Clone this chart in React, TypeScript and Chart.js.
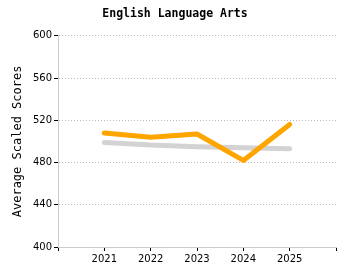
import React, { useEffect, useRef } from "react";
import { Chart, registerables } from "chart.js";
Chart.register(...registerables);

const categories = ["", "2021", "2022", "2023", "2024", "2025", ""];
const schoolScores = [null, 508, 504, 507, 482, 516, null];
const comparisonScores = [null, 499, 496.5, 495, 494, 493, null];
const yMin = 400;
const yMax = 600;
const yStep = 40;
const chartTitle = "English Language Arts";
const yTitle = "Average Scaled Scores";

export default function App() {
  const ref = useRef<HTMLCanvasElement | null>(null);
  useEffect(() => {
    if (!ref.current) return;
    const chart = new Chart(ref.current, {
      type: "line",
      data: {
        labels: categories,
        datasets: [
          {
            data: schoolScores,
            borderColor: "#FFA500",
            backgroundColor: "#FFA500",
            borderWidth: 5,
            pointRadius: 0,
            borderCapStyle: "round",
            borderJoinStyle: "round",
            order: 0,
          },
          {
            data: comparisonScores,
            borderColor: "#D3D3D3",
            backgroundColor: "#D3D3D3",
            borderWidth: 5,
            pointRadius: 0,
            borderCapStyle: "round",
            order: 1,
          },
        ],
      },
      options: {
        animation: false,
        responsive: false,
        maintainAspectRatio: false,
        layout: { padding: { left: 0, right: 0, top: 4, bottom: 0 } },
        plugins: {
          legend: { display: false },
          tooltip: { enabled: false },
          title: {
            display: true,
            text: chartTitle,
            color: "#000",
            font: { family: "DejaVu Sans Mono", size: 11.5, weight: "bold" },
            padding: { top: 3, bottom: 15 },
          },
        },
        scales: {
          x: {
            offset: false,
            grid: {
              drawOnChartArea: false,
              drawTicks: true,
              tickLength: 4,
              tickColor: "#000",
            },
            border: { color: "#CCCCCC", width: 1 },
            ticks: {
              color: "#000",
              font: { family: "DejaVu Sans", size: 10 },
              maxRotation: 0,
              autoSkip: false,
              padding: 2,
            },
            afterFit: (s: any) => {
              s.height = 33;
            },
          },
          y: {
            min: yMin,
            max: yMax,
            grid: {
              color: "#BBBBBB",
              tickColor: "#000",
              tickLength: 4,
              tickBorderDash: [],
            },
            border: { color: "#CCCCCC", width: 1, dash: [1, 2] },
            ticks: {
              stepSize: yStep,
              color: "#000",
              font: { family: "DejaVu Sans", size: 10 },
              padding: 2,
            },
            title: {
              display: true,
              text: yTitle,
              color: "#000",
              font: { family: "DejaVu Sans Mono", size: 12 },
              padding: { top: 11, bottom: 4 },
            },
            afterFit: (s: any) => {
              s.width = 58;
            },
          },
          yRight: {
            position: "right",
            display: true,
            grid: { display: false },
            border: { display: false },
            ticks: { display: false },
            afterFit: (s: any) => {
              s.width = 14;
            },
          },
        },
      },
    });
    return () => chart.destroy();
  }, []);
  return (
    <div style={{ position: "fixed", left: 0, top: 0, width: 350, height: 280, background: "#fff" }}>
      <canvas ref={ref} width={350} height={280} style={{ width: 350, height: 280 }} />
    </div>
  );
}
